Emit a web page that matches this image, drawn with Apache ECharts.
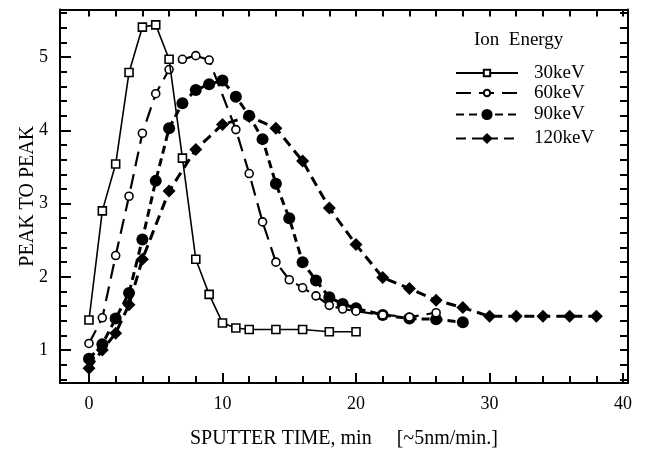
<!DOCTYPE html>
<html>
<head>
<meta charset="utf-8">
<script src="https://cdn.jsdelivr.net/npm/echarts@6/dist/echarts.min.js"></script>
<style>html,body{margin:0;padding:0;background:#fff;}#c{width:649px;height:451px;}</style>
</head>
<body>
<div id="c"></div>
<script>
// ---- data ----
const seriesNames = ['30keV', '60keV', '90keV', '120keV'];

const t30 = [0, 1, 2, 3, 4, 5, 6, 7, 8, 9, 10, 11, 12, 14, 16, 18, 20];
const v30 = [1.41, 2.90, 3.54, 4.79, 5.41, 5.44, 4.97, 3.62, 2.24, 1.76, 1.37, 1.30, 1.28, 1.28, 1.28, 1.25, 1.25];

const t60 = [0, 1, 2, 3, 4, 5, 6, 7, 8, 9, 11, 12, 13, 14, 15, 16, 17, 18, 19, 20, 22, 24, 26];
const v60 = [1.09, 1.44, 2.29, 3.10, 3.96, 4.50, 4.83, 4.97, 5.02, 4.96, 4.01, 3.41, 2.75, 2.20, 1.96, 1.85, 1.74, 1.61, 1.56, 1.53, 1.48, 1.45, 1.51];

const t90 = [0, 1, 2, 3, 4, 5, 6, 7, 8, 9, 10, 11, 12, 13, 14, 15, 16, 17, 18, 19, 20, 22, 24, 26, 28];
const v90 = [0.88, 1.08, 1.43, 1.78, 2.51, 3.31, 4.03, 4.37, 4.55, 4.63, 4.68, 4.46, 4.20, 3.88, 3.27, 2.80, 2.20, 1.95, 1.72, 1.63, 1.57, 1.48, 1.43, 1.42, 1.38];

const t120 = [0, 1, 2, 3, 4, 6, 8, 10, 12, 14, 16, 18, 20, 22, 24, 26, 28, 30, 32, 34, 36, 38];
const v120 = [0.75, 1.00, 1.23, 1.62, 2.24, 3.17, 3.74, 4.08, 4.19, 4.03, 3.58, 2.94, 2.44, 1.99, 1.84, 1.68, 1.58, 1.46, 1.46, 1.46, 1.46, 1.46];

// ---- tick positions ----
const xMajor = [0, 10, 20, 30, 40];
const xMinor = [2, 4, 6, 8, 12, 14, 16, 18, 22, 24, 26, 28, 32, 34, 36, 38];
const xTop = [0, 2, 4, 6, 8, 10, 12, 14, 16, 18, 20, 22, 24, 26, 28, 30, 32, 34, 36, 38, 40];
const yMajor = [1, 2, 3, 4, 5];
const yMinor = [0.6, 0.8, 1.2, 1.4, 1.6, 1.8, 2.2, 2.4, 2.6, 2.8, 3.2, 3.4, 3.6, 3.8, 4.2, 4.4, 4.6, 4.8, 5.2, 5.4, 5.6];
const yRight = [0.6, 0.8, 1, 1.2, 1.4, 1.6, 1.8, 2, 2.2, 2.4, 2.6, 2.8, 3, 3.2, 3.4, 3.6, 3.8, 4, 4.2, 4.4, 4.6, 4.8, 5, 5.2, 5.4, 5.6];

const xTitle = 'SPUTTER TIME, min     [~5nm/min.]';
const yTitle = 'PEAK TO PEAK';
const legendTitle = 'Ion  Energy';

const X_MIN = -2.17, X_MAX = 40.37, Y_MIN = 0.55, Y_MAX = 5.65;
const FONT = '"Liberation Serif", "DejaVu Serif", serif';

const pairs = (t, v) => t.map((x, i) => [x, v[i]]);

const baseX = { type: 'value', min: X_MIN, max: X_MAX, splitLine: { show: false } };
const baseY = { type: 'value', min: Y_MIN, max: Y_MAX, splitLine: { show: false } };
const blackLine = { show: true, onZero: false, lineStyle: { color: '#000', width: 2 } };
const noLine = { show: false, onZero: false };
const legendText = { fontFamily: FONT, fontSize: 19, color: '#000', padding: [0, 0, 0, 11] };

const chart = echarts.init(document.getElementById('c'), null, { renderer: 'canvas' });
chart.setOption({
  backgroundColor: '#fff',
  animation: false,
  title: {
    text: legendTitle,
    left: 469, top: 26,
    textStyle: { fontFamily: FONT, fontSize: 19, fontWeight: 'normal', color: '#000' }
  },
  grid: { left: 60, right: 21, top: 9.5, bottom: 68, outerBoundsMode: 'none', containLabel: false },
  legend: [
    {
      data: seriesNames.slice(0, 2),
      orient: 'vertical',
      left: 450, top: 58.5,
      itemWidth: 62, itemHeight: 8, itemGap: 1,
      textStyle: legendText
    },
    {
      data: seriesNames.slice(2, 4),
      orient: 'vertical',
      left: 450, top: 100,
      itemWidth: 62, itemHeight: 14, itemGap: 5,
      textStyle: legendText
    }
  ],
  xAxis: [
    Object.assign({}, baseX, {
      position: 'bottom',
      axisLine: blackLine,
      axisTick: { show: true, inside: true, length: 10, customValues: xMajor, lineStyle: { color: '#000', width: 2 } },
      axisLabel: { customValues: xMajor, margin: 12, fontFamily: FONT, fontSize: 18, color: '#000' },
      name: xTitle, nameLocation: 'middle', nameGap: 46, nameMoveOverlap: false,
      nameTextStyle: { fontFamily: FONT, fontSize: 20, color: '#000' }
    }),
    Object.assign({}, baseX, {
      position: 'bottom',
      axisLine: noLine,
      axisTick: { show: true, inside: true, length: 7, customValues: xMinor, lineStyle: { color: '#000', width: 2 } },
      axisLabel: { show: false }
    }),
    Object.assign({}, baseX, {
      position: 'top',
      axisLine: blackLine,
      axisTick: { show: true, inside: true, length: 7, customValues: xTop, lineStyle: { color: '#000', width: 2 } },
      axisLabel: { show: false }
    })
  ],
  yAxis: [
    Object.assign({}, baseY, {
      position: 'left',
      axisLine: blackLine,
      axisTick: { show: true, inside: true, length: 11, customValues: yMajor, lineStyle: { color: '#000', width: 2 } },
      axisLabel: { customValues: yMajor, margin: 12, fontFamily: FONT, fontSize: 18, color: '#000' },
      name: yTitle, nameLocation: 'middle', nameGap: 22, nameRotate: 90, nameMoveOverlap: false,
      nameTextStyle: { fontFamily: FONT, fontSize: 20, color: '#000' }
    }),
    Object.assign({}, baseY, {
      position: 'left',
      axisLine: noLine,
      axisTick: { show: true, inside: true, length: 7, customValues: yMinor, lineStyle: { color: '#000', width: 2 } },
      axisLabel: { show: false }
    }),
    Object.assign({}, baseY, {
      position: 'right',
      axisLine: blackLine,
      axisTick: { show: true, inside: true, length: 8, customValues: yRight, lineStyle: { color: '#000', width: 2 } },
      axisLabel: { show: false }
    })
  ],
  series: [
    {
      name: seriesNames[0], type: 'line', xAxisIndex: 0, yAxisIndex: 0,
      data: pairs(t30, v30),
      symbol: 'rect', symbolSize: 8,
      lineStyle: { color: '#000', width: 1.6, type: 'solid' },
      itemStyle: { color: '#fff', borderColor: '#000', borderWidth: 1.6 },
      z: 5
    },
    {
      name: seriesNames[1], type: 'line', xAxisIndex: 0, yAxisIndex: 0,
      data: pairs(t60, v60),
      symbol: 'circle', symbolSize: 8,
      lineStyle: { color: '#000', width: 2.2, type: [15, 8] },
      itemStyle: { color: '#fff', borderColor: '#000', borderWidth: 1.6 },
      z: 4
    },
    {
      name: seriesNames[2], type: 'line', xAxisIndex: 0, yAxisIndex: 0,
      data: pairs(t90, v90),
      symbol: 'circle', symbolSize: 12,
      lineStyle: { color: '#000', width: 3, type: [8, 5] },
      itemStyle: { color: '#000' },
      z: 3
    },
    {
      name: seriesNames[3], type: 'line', xAxisIndex: 0, yAxisIndex: 0,
      data: pairs(t120, v120),
      symbol: 'diamond', symbolSize: 13,
      lineStyle: { color: '#000', width: 3, type: [10, 6] },
      itemStyle: { color: '#000' },
      z: 2
    }
  ]
});
</script>
</body>
</html>
